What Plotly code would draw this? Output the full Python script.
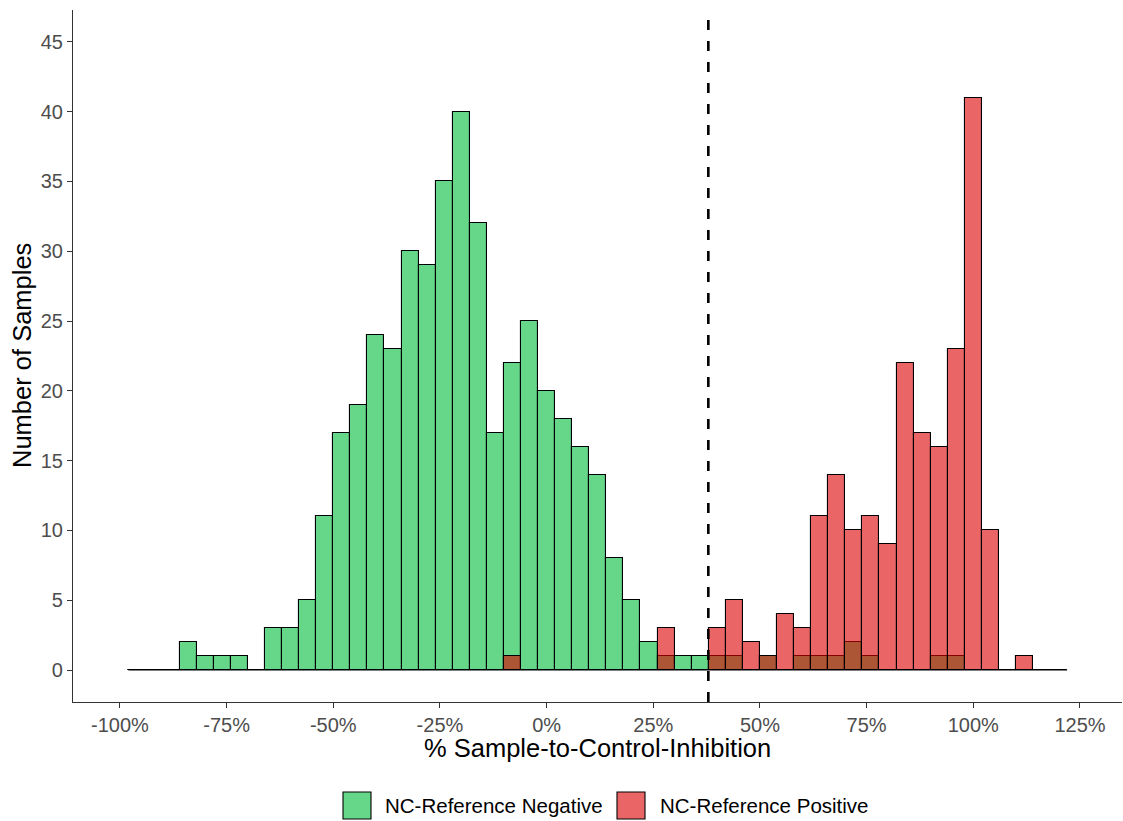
import plotly.graph_objects as go

# Histogram bins: 4-point wide bins centred on multiples of 4 (%)
bin_width = 4
bin_centers = list(range(-96, 121, bin_width))

# Counts per bin, NC-Reference Negative group
negative_counts = [
    0, 0, 0, 2, 1, 1, 1, 0, 3, 3,          # -96 .. -60
    5, 11, 17, 19, 24, 23, 30, 29, 35, 40,  # -56 .. -20
    32, 17, 22, 25, 20, 18, 16, 14, 8, 5,   # -16 .. 20
    2, 1, 1, 1, 1, 1, 0, 1, 0, 1,           # 24 .. 60
    1, 1, 2, 1, 0, 0, 0, 1, 1, 0,           # 64 .. 100
    0, 0, 0, 0, 0,                          # 104 .. 120
]

# Counts per bin, NC-Reference Positive group
positive_counts = [
    0, 0, 0, 0, 0, 0, 0, 0, 0, 0,           # -96 .. -60
    0, 0, 0, 0, 0, 0, 0, 0, 0, 0,           # -56 .. -20
    0, 0, 1, 0, 0, 0, 0, 0, 0, 0,           # -16 .. 20
    0, 3, 0, 0, 3, 5, 2, 1, 4, 3,           # 24 .. 60
    11, 14, 10, 11, 9, 22, 17, 16, 23, 41,  # 64 .. 100
    10, 0, 1, 0, 0,                         # 104 .. 120
]

group_names = ["NC-Reference Negative", "NC-Reference Positive"]
group_fills = ["rgba(0,186,56,0.6)", "rgba(220,0,0,0.6)"]

# Classification cut-off (%)
cutoff = 37.9

x_ticks = [-100, -75, -50, -25, 0, 25, 50, 75, 100, 125]
x_tick_text = [f"{v}%" for v in x_ticks]
y_ticks = [0, 5, 10, 15, 20, 25, 30, 35, 40, 45]

assert len(bin_centers) == len(negative_counts) == len(positive_counts)

W, H = 1123, 821
ML, MR, MT, MB = 73, 1, 10, 119
PW, PH = W - ML - MR, H - MT - MB

FONT = "Liberation Sans, Arial, sans-serif"


def px_x(px):
    return (px - ML) / PW


def px_y(py):
    return (H - MB - py) / PH


fig = go.Figure()

# zero-count bins show up as a flat outline along the base
lo_edge = bin_centers[0] - bin_width / 2
hi_edge = bin_centers[-1] + bin_width / 2
fig.add_trace(go.Scatter(
    x=[lo_edge, hi_edge], y=[0, 0], mode="lines",
    line=dict(color="black", width=1.1), showlegend=False, hoverinfo="skip",
))

for name, counts, fill in zip(group_names, [negative_counts, positive_counts], group_fills):
    fig.add_trace(go.Bar(
        x=bin_centers, y=counts, width=bin_width, name=name,
        marker=dict(color=fill, line=dict(color="black", width=1.1)),
        showlegend=False,
    ))

fig.add_shape(
    type="line", xref="x", yref="paper", x0=cutoff, x1=cutoff, y0=0, y1=0.99,
    line=dict(color="black", width=2.6, dash="10px,11px"),
)

# legend drawn as keyed boxes under the axis title
key_left = [343, 617]
text_left = [383, 658]
key_top, key_bottom = 792, 819
annotations = []
for name, fill, kx, tx in zip(group_names, group_fills, key_left, text_left):
    fig.add_shape(
        type="rect", xref="paper", yref="paper",
        x0=px_x(kx), x1=px_x(kx + 28), y0=px_y(key_bottom), y1=px_y(key_top),
        fillcolor=fill, line=dict(color="black", width=1.1),
    )
    annotations.append(dict(
        text=name, xref="paper", yref="paper", x=px_x(tx), y=px_y((key_top + key_bottom) / 2),
        xanchor="left", yanchor="middle", showarrow=False,
        font=dict(family=FONT, size=20.5, color="black"),
    ))

annotations.append(dict(
    text="% Sample-to-Control-Inhibition", xref="paper", yref="paper",
    x=px_x(597.5), y=px_y(748), xanchor="center", yanchor="middle", showarrow=False,
    font=dict(family=FONT, size=25.5, color="black"),
))
annotations.append(dict(
    text="Number of Samples", xref="paper", yref="paper", textangle=-90,
    x=px_x(22), y=px_y(356), xanchor="center", yanchor="middle", showarrow=False,
    font=dict(family=FONT, size=25.5, color="black"),
))

fig.update_layout(
    width=W, height=H,
    margin=dict(l=ML, r=MR, t=MT, b=MB),
    paper_bgcolor="white", plot_bgcolor="white",
    barmode="overlay", bargap=0,
    annotations=annotations,
    xaxis=dict(
        range=[-111.0, 134.85], tickvals=x_ticks, ticktext=x_tick_text,
        showgrid=False, zeroline=False, showline=True, linecolor="#333333", linewidth=1.1,
        ticks="outside", ticklen=5, tickcolor="#333333", tickwidth=1.1,
        tickfont=dict(family=FONT, size=20, color="#4D4D4D"),
    ),
    yaxis=dict(
        range=[-2.29, 47.28], tickvals=y_ticks,
        showgrid=False, zeroline=False, showline=True, linecolor="#333333", linewidth=1.1,
        ticks="outside", ticklen=5, tickcolor="#333333", tickwidth=1.1,
        tickfont=dict(family=FONT, size=20, color="#4D4D4D"),
    ),
)

fig.write_html("out.html")
